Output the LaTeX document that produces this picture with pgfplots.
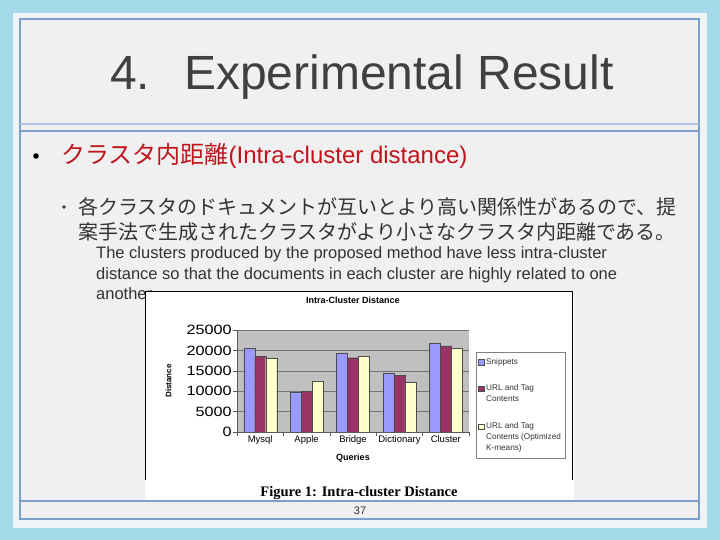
\documentclass[border=0pt]{standalone}
\usepackage{fontspec}
\setmainfont{Liberation Sans}
\newfontfamily\jp{Noto Sans CJK JP}
\newfontfamily\tnr{Liberation Serif}
\usepackage{pgfplots}
\pgfplotsset{compat=1.18}
\definecolor{skyblue}{HTML}{A5DAEA}
\definecolor{framelight}{HTML}{EEF4F7}
\definecolor{panel}{HTML}{F0F0F0}
\definecolor{border}{HTML}{7A9FC9}
\definecolor{titlegray}{HTML}{404040}
\definecolor{bulletred}{HTML}{C0141C}
\definecolor{textgray}{HTML}{333333}
\definecolor{plotgray}{HTML}{C0C0C0}
\definecolor{snip}{HTML}{9999FF}
\definecolor{url}{HTML}{993366}
\definecolor{opt}{HTML}{FFFFCC}

\begin{document}
\begin{tikzpicture}[x=1pt,y=1pt]
% slide background and frame
\fill[skyblue] (0,0) rectangle (720,540);
\fill[framelight] (13,12) rectangle (707,527);
\fill[panel] (20,21) rectangle (699,521);
\draw[border, line width=2.5pt] (20,21) rectangle (699,521);
\draw[border!60, line width=1.2pt] (20,416) -- (699,416);
\draw[border, line width=1.2pt] (20,409) -- (699,409);
\draw[border, line width=1.5pt] (20,39) -- (699,39);

% title
\node[anchor=base west, inner sep=0, text=titlegray, font=\fontsize{48}{52}\selectfont] at (110,450) {4.};
\node[anchor=base west, inner sep=0, text=titlegray, font=\fontsize{48}{52}\selectfont] at (184,450) {Experimental Result};

% bullets
\fill[black] (36,384) circle (2.8);
\node[anchor=base west, inner sep=0, text=bulletred, font=\fontsize{24}{28}\selectfont] at (61,376) {{\jp クラスタ内距離}(Intra-cluster distance)};
\fill[textgray] (64,333) circle (1.8);
\node[anchor=base west, inner sep=0, text=textgray, font=\fontsize{20}{24}\selectfont\jp] at (78,325) {各クラスタのドキュメントが互いとより高い関係性があるので、提};
\node[anchor=base west, inner sep=0, text=textgray, font=\fontsize{20}{24}\selectfont\jp] at (78,300) {案手法で生成されたクラスタがより小さなクラスタ内距離である。};
\node[anchor=base west, inner sep=0, text=textgray, font=\fontsize{16.5}{20}\selectfont] at (96,281) {The clusters produced by the proposed method have less intra-cluster};
\node[anchor=base west, inner sep=0, text=textgray, font=\fontsize{16.5}{20}\selectfont] at (96,260) {distance so that the documents in each cluster are highly related to one};
\node[anchor=base west, inner sep=0, text=textgray, font=\fontsize{16.5}{20}\selectfont] at (96,240) {another.};

% figure box
\fill[white] (145,40) rectangle (574,249);
\draw[black, line width=0.8pt] (145.5,60) -- (145.5,248.5) -- (572.5,248.5) -- (572.5,60);
\node[inner sep=0, font=\tnr\bfseries\fontsize{14.5}{16}\selectfont] at (359,47) {Figure 1: Intra-cluster Distance};
\node[inner sep=0, text=textgray, font=\fontsize{11}{12}\selectfont] at (360,29) {37};

\begin{axis}[
  at={(237pt,108pt)}, anchor=south west,
  scale only axis, width=232pt, height=102pt,
  ybar=0pt, bar width=11pt,
  xmin=-0.5, xmax=4.5, ymin=0, ymax=25000,
  axis lines=left, axis line style={-, draw=black!65},
  axis background/.style={fill=plotgray},
  ytick={0,5000,...,25000},
  scaled y ticks=false,
  ymajorgrids, major grid style={draw=black!55, line width=0.5pt},
  tick align=outside, major tick length=4pt,
  tick style={draw=black!65},
  /pgf/number format/1000 sep={},
  /pgf/number format/assume math mode=true,
  yticklabel style={font=\fontsize{13.5}{14}\selectfont, xscale=1.2, text=black, inner xsep=1pt},
  xtick={-0.5,0.5,...,4.5}, xticklabels={},
  extra x ticks={0,1,2,3,4},
  extra x tick labels={Mysql,Apple,Bridge,Dictionary,Cluster},
  extra x tick style={major tick length=0pt, grid=none},
  xticklabel style={font=\fontsize{9.5}{10}\selectfont, text=black},
  xlabel={Queries}, ylabel={Distance}, title={Intra-Cluster Distance},
  xlabel style={font=\bfseries\fontsize{9}{10}\selectfont, at={(axis description cs:0.5,-0.255)}, anchor=center},
  ylabel style={font=\bfseries\fontsize{8}{9}\selectfont, at={(axis description cs:-0.295,0.5)}, anchor=center},
  title style={font=\bfseries\fontsize{9}{10}\selectfont, at={(axis description cs:0.5,1.235)}, anchor=center},
  legend style={at={(axis description cs:1.03,0.784)}, anchor=north west,
    draw=black!50, fill=white, font=\fontsize{8.2}{11}\selectfont, text=black!80,
    row sep=15pt, inner xsep=2pt, inner ysep=3.5pt,
    cells={anchor=north west, align=left}},
  legend image code/.code={\path (0pt,0pt); \draw[#1, draw=black!70] (0pt,-3.3pt) rectangle (5.6pt,-8.9pt);},
]
\addplot[fill=snip, draw=black!70, line width=0.4pt] coordinates {(0,20500) (1,9850) (2,19400) (3,14300) (4,21700)};
\addplot[fill=url, draw=black!70, line width=0.4pt] coordinates {(0,18600) (1,9950) (2,18200) (3,13900) (4,21100)};
\addplot[fill=opt, draw=black!70, line width=0.4pt] coordinates {(0,18100) (1,12500) (2,18600) (3,12100) (4,20500)};
\addlegendentry{Snippets}
\addlegendentry{URL and Tag\\Contents}
\addlegendentry{URL and Tag\\Contents (Optimized\\K-means)}
\end{axis}
\end{tikzpicture}
\end{document}
